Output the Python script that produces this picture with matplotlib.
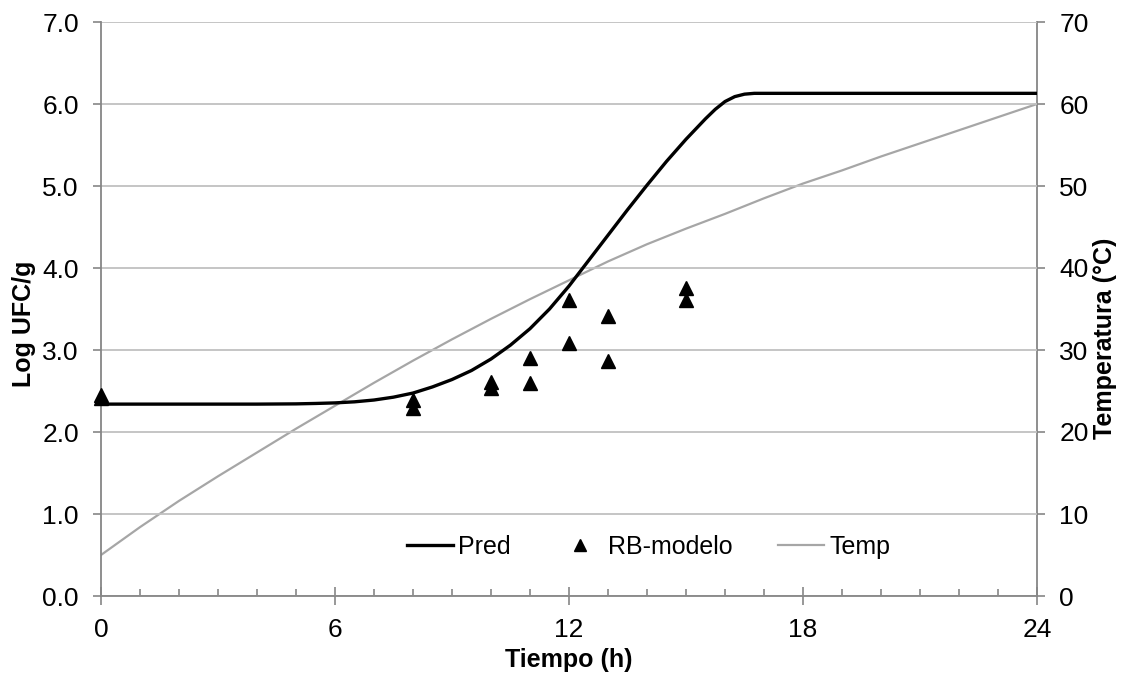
import matplotlib
matplotlib.use("Agg")
import matplotlib.pyplot as plt
from matplotlib.ticker import MultipleLocator, FormatStrFormatter
from matplotlib.lines import Line2D

plt.rcParams['font.family'] = ['Liberation Sans', 'DejaVu Sans']

# Predicted log UFC/g curve
pred_t = [0, 1, 2, 3, 4, 5, 5.5, 6, 6.5, 7, 7.5, 8, 8.5, 9, 9.5, 10, 10.5, 11, 11.5,
          12, 12.5, 13, 13.5, 14, 14.5, 15, 15.5, 15.75, 16, 16.25, 16.5, 16.75, 17,
          18, 20, 22, 24]
pred_v = [2.34, 2.34, 2.34, 2.34, 2.34, 2.343, 2.348, 2.355, 2.368, 2.39, 2.425, 2.475,
          2.55, 2.64, 2.75, 2.89, 3.06, 3.26, 3.50, 3.78, 4.09, 4.40, 4.71, 5.01,
          5.30, 5.57, 5.82, 5.935, 6.03, 6.09, 6.12, 6.13, 6.13, 6.13, 6.13, 6.13, 6.13]

# Observed (RB-modelo)
obs_t = [0, 0, 8, 8, 10, 10, 11, 11, 12, 12, 13, 13, 15, 15]
obs_v = [2.45, 2.42, 2.39, 2.29, 2.61, 2.54, 2.90, 2.60, 3.61, 3.09, 3.41, 2.87, 3.76, 3.61]

# Temperature (°C)
temp_t = list(range(0, 25))
temp_v = [5.0, 8.4, 11.6, 14.6, 17.5, 20.4, 23.2, 26.0, 28.7, 31.3, 33.8, 36.2, 38.5,
          40.8, 42.9, 44.8, 46.6, 48.5, 50.3, 51.9, 53.6, 55.2, 56.8, 58.4, 60.0]

xticks = [0, 6, 12, 18, 24]

spine_c = '#868686'
grid_c = '#C0C0C0'
temp_c = '#A6A6A6'
fs = 19
lfs = 18

W, H = 1129, 677
L, R, T, B = 101, 1037, 22, 596

fig = plt.figure(figsize=(W/100, H/100), dpi=100)
ax = fig.add_axes([L/W, 1-B/H, (R-L)/W, (B-T)/H])
ax2 = ax.twinx()

ax.set_zorder(ax2.get_zorder() + 1)
ax.patch.set_visible(False)

ax2.plot(temp_t, temp_v, color=temp_c, lw=1.6, zorder=2)
ax.plot(pred_t, pred_v, color='black', lw=2.4, zorder=3, solid_capstyle='butt')
ax.plot(obs_t, obs_v, linestyle='none', marker='^', color='black', markersize=10, zorder=4,
        clip_on=False)

ax.set_xlim(0, 24)
ax.set_ylim(0, 7)
ax2.set_ylim(0, 70)

ax.set_yticks([0, 1, 2, 3, 4, 5, 6, 7])
ax.yaxis.set_major_formatter(FormatStrFormatter('%.1f'))
ax2.set_yticks(range(0, 71, 10))
ax.set_xticks(xticks)
ax.set_xticklabels([str(v) for v in xticks])
ax.xaxis.set_minor_locator(MultipleLocator(1))

ax.grid(axis='y', color=grid_c, lw=1.3)
ax.set_axisbelow(True)

for a in (ax, ax2):
    a.spines['top'].set_visible(False)
    for s in ('left', 'right', 'bottom'):
        a.spines[s].set_color(spine_c)
        a.spines[s].set_linewidth(1.3)

ax.spines['right'].set_visible(False)
ax2.spines['left'].set_visible(False)
ax2.spines['bottom'].set_visible(False)

ax.tick_params(axis='y', which='major', direction='out', length=6, width=1.2, color=spine_c,
               labelsize=fs, pad=10)
ax.tick_params(axis='x', which='major', direction='inout', length=13, width=1.2, color=spine_c,
               labelsize=fs, pad=9)
ax.tick_params(axis='x', which='minor', direction='in', length=5, width=1.2, color=spine_c)
ax2.tick_params(axis='y', which='major', direction='out', length=6, width=1.2, color=spine_c,
                labelsize=fs, pad=10)

ax.set_xlabel('Tiempo (h)', fontsize=lfs, fontweight='bold')
ax.set_ylabel('Log UFC/g', fontsize=lfs, fontweight='bold')
ax2.set_ylabel('Temperatura (°C)', fontsize=lfs, fontweight='bold')

ax.xaxis.label.set_va('center')
ax.yaxis.label.set_va('center')
ax2.yaxis.label.set_va('center')
ax.xaxis.set_label_coords((569-L)/(R-L), -(660-B)/(B-T))
ax.yaxis.set_label_coords(-(L-24)/(R-L), (B-324)/(B-T))
ax2.yaxis.set_label_coords((1105-L)/(R-L), (B-338)/(B-T))

handles = [Line2D([], [], color='black', lw=2.4),
           Line2D([], [], linestyle='none', marker='^', color='black', markersize=9),
           Line2D([], [], color=temp_c, lw=1.6)]
leg = ax.legend(handles, ['Pred', 'RB-modelo', 'Temp'], loc='center',
                bbox_to_anchor=(0.585, 0.085), ncol=3, frameon=False, fontsize=lfs,
                handlelength=1.84, handletextpad=0.2, columnspacing=1.85)

fig.savefig('out.png', dpi=100)
